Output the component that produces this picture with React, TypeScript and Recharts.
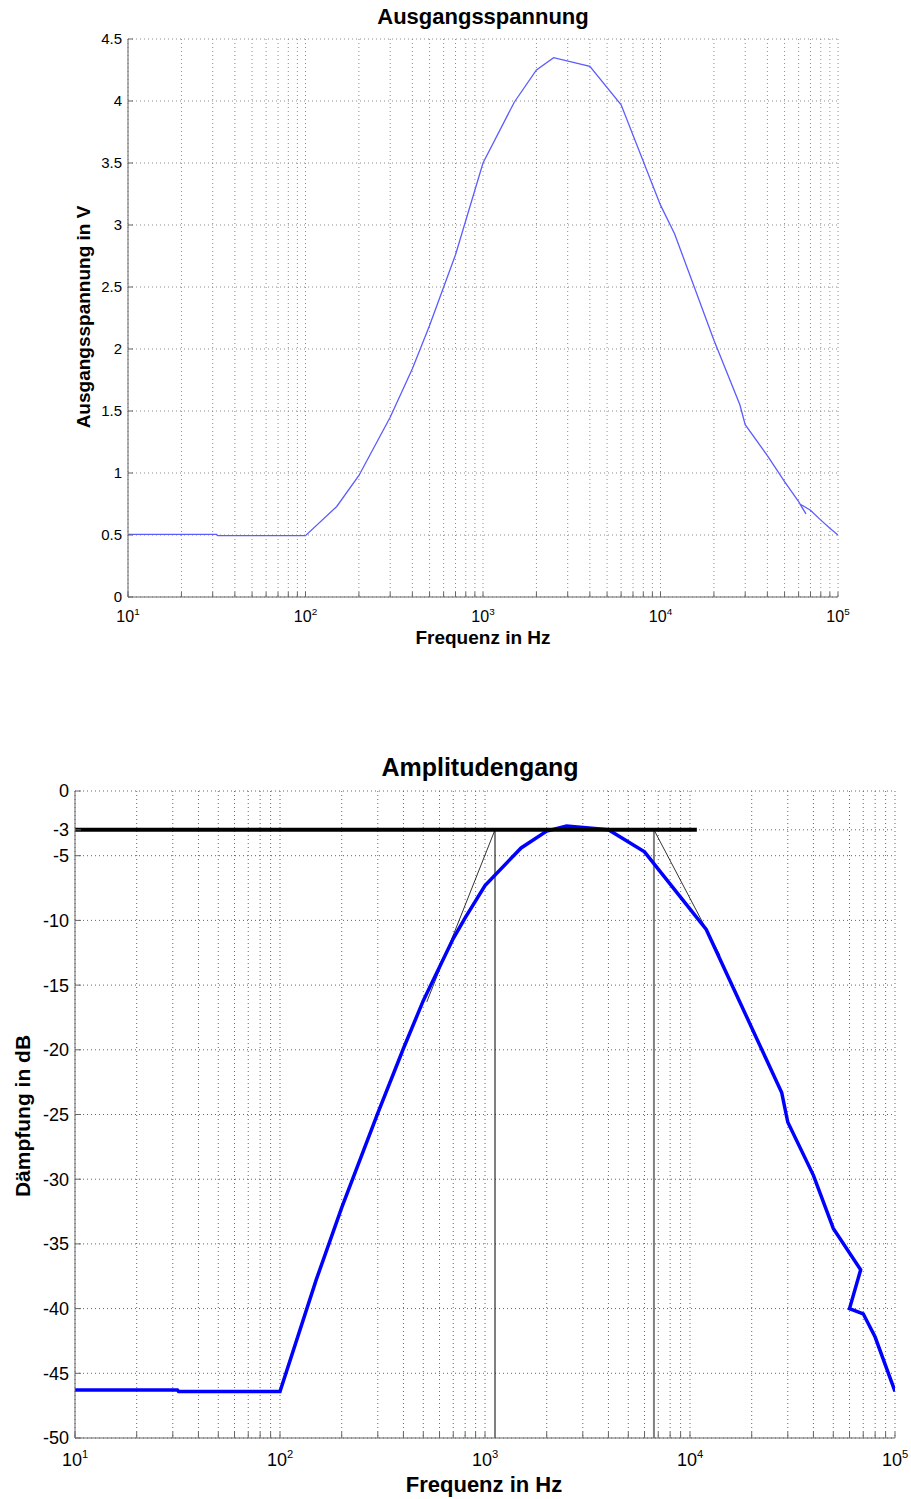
import React from "react";
import { LineChart, Line, XAxis, YAxis, CartesianGrid } from "recharts";

const FONT = "'Liberation Sans', Arial, Helvetica, sans-serif";

// Frequenzachse: Dekaden und Gitterlinien (1..9 je Dekade)
const freqDecades = [10, 100, 1000, 10000, 100000];
const freqGrid = freqDecades
  .slice(0, -1)
  .flatMap((d) => [1, 2, 3, 4, 5, 6, 7, 8, 9].map((m) => m * d))
  .concat([100000]);

// Ausgangsspannung (oben)
const voltFreq = [
  10, 31.6, 32, 100, 150, 200, 300, 400, 500, 700, 1000, 1500, 2000, 2500, 4000, 6000, 10000,
  12000, 20000, 28000, 30000, 40000, 50000, 60000, 66000, 61000, 70000, 80000, 90000, 100000,
];
const voltValues = [
  0.505, 0.505, 0.495, 0.495, 0.73, 0.98, 1.45, 1.84, 2.19, 2.76, 3.5, 3.99, 4.25, 4.35, 4.28, 3.97,
  3.16, 2.93, 2.07, 1.55, 1.39, 1.14, 0.93, 0.77, 0.67, 0.75, 0.7, 0.62, 0.555, 0.5,
];
const voltTicks = [0, 0.5, 1, 1.5, 2, 2.5, 3, 3.5, 4, 4.5];

// Amplitudengang (unten)
const dbFreq = [
  10, 31.6, 32, 100, 150, 200, 300, 400, 500, 600, 700, 800, 1000, 1500, 2000, 2500, 4000, 6000,
  12000, 28000, 30000, 40000, 50000, 68000, 60000, 70000, 80000, 100000,
];
const dbValues = [
  -46.3, -46.3, -46.4, -46.4, -37.8, -32.2, -24.9, -19.9, -16.2, -13.6, -11.4, -9.8, -7.3, -4.4,
  -3.1, -2.7, -3.0, -4.7, -10.7, -23.3, -25.6, -29.7, -33.8, -37.0, -40.0, -40.4, -42.2, -46.4,
];
const dbTicks = [0, -3, -5, -10, -15, -20, -25, -30, -35, -40, -45, -50];

// -3 dB Hilfslinien
const cutLevel = [-3, -3];
const cutLevelFreq = [10, 10800];
const lowerCutFreq = [1119, 1119];
const upperCutFreq = [6670, 6670];
const cutDrop = [-3, -50];
const lowAsymFreq = [1119, 520];
const lowAsymDb = [-3, -16.3];
const highAsymFreq = [6670, 14000];
const highAsymDb = [-3, -12.7];

const voltData = voltFreq.map((f, i) => ({ f, v: voltValues[i] }));
const dbData = dbFreq.map((f, i) => ({ f, db: dbValues[i] }));
const pairs = (fs: number[], ds: number[]) => fs.map((f, i) => ({ f, db: ds[i] }));

const isDecade = (v: number) => Math.abs(Math.log10(v) - Math.round(Math.log10(v))) < 1e-9;

const freqTick = (fontSize: number, labelDy: number, len: number, stroke: string) => (props: any) => {
  const { x, y, payload } = props;
  const v = payload.value;
  const exp = Math.round(Math.log10(v));
  return (
    <g>
      <line x1={x} x2={x} y1={y} y2={y - len} stroke={stroke} />
      {isDecade(v) && (
        <text x={x} y={y + labelDy} textAnchor="middle" fontSize={fontSize} fontFamily={FONT} fill="#000">
          10
          <tspan dy={-fontSize * 0.45} fontSize={fontSize * 0.62}>
            {exp}
          </tspan>
        </text>
      )}
    </g>
  );
};

const topTick = (len: number, stroke: string) => (props: any) => {
  const { x, y } = props;
  return <line x1={x} x2={x} y1={y} y2={y + len} stroke={stroke} />;
};

const valueTick = (fontSize: number, gap: number, len: number, stroke: string) => (props: any) => {
  const { x, y, payload } = props;
  return (
    <g>
      <line x1={x} x2={x + len} y1={y} y2={y} stroke={stroke} />
      <text x={x - gap} y={y} dy="0.36em" textAnchor="end" fontSize={fontSize} fontFamily={FONT} fill="#000">
        {String(payload.value)}
      </text>
    </g>
  );
};

const rightTick = (len: number, stroke: string) => (props: any) => {
  const { x, y } = props;
  return <line x1={x} x2={x - len} y1={y} y2={y} stroke={stroke} />;
};

function VoltageChart() {
  const box = "#666";
  return (
    <LineChart width={911} height={680} data={voltData} margin={{ top: 39, right: 73, bottom: 43, left: 68 }}>
      <CartesianGrid stroke="#8c8c8c" strokeDasharray="1 3" />
      <XAxis
        dataKey="f"
        type="number"
        scale="log"
        domain={[10, 100000]}
        allowDataOverflow
        ticks={freqGrid}
        interval={0}
        tickSize={0}
        tickMargin={0}
        height={40}
        axisLine={{ stroke: box }}
        tick={freqTick(16, 25, 5, box)}
      />
      <XAxis
        xAxisId="top"
        orientation="top"
        type="number"
        scale="log"
        domain={[10, 100000]}
        allowDataOverflow
        ticks={freqGrid}
        interval={0}
        tickSize={0}
        tickMargin={0}
        height={0}
        axisLine={{ stroke: box }}
        tick={topTick(5, box)}
      />
      <YAxis
        type="number"
        domain={[0, 4.5]}
        allowDataOverflow
        ticks={voltTicks}
        interval={0}
        tickSize={0}
        tickMargin={0}
        width={60}
        axisLine={{ stroke: box }}
        tick={valueTick(15, 6, 5, box)}
      />
      <YAxis
        yAxisId="r"
        orientation="right"
        type="number"
        domain={[0, 4.5]}
        allowDataOverflow
        ticks={voltTicks}
        interval={0}
        tickSize={0}
        tickMargin={0}
        width={0}
        axisLine={{ stroke: box }}
        tick={rightTick(5, box)}
      />
      <Line dataKey="v" type="linear" stroke="#5c5cff" strokeWidth={1.3} dot={false} isAnimationActive={false} />
    </LineChart>
  );
}

function DampingChart() {
  const box = "#666";
  return (
    <LineChart width={911} height={799} margin={{ top: 91, right: 16, bottom: 21, left: 15 }}>
      <CartesianGrid stroke="#666" strokeDasharray="1 3" />
      <XAxis
        dataKey="f"
        type="number"
        scale="log"
        domain={[10, 100000]}
        allowDataOverflow
        ticks={freqGrid}
        interval={0}
        tickSize={0}
        tickMargin={0}
        height={40}
        axisLine={{ stroke: box }}
        tick={freqTick(18, 28, 6, box)}
      />
      <XAxis
        xAxisId="top"
        orientation="top"
        type="number"
        scale="log"
        domain={[10, 100000]}
        allowDataOverflow
        ticks={freqGrid}
        interval={0}
        tickSize={0}
        tickMargin={0}
        height={0}
        axisLine={{ stroke: box }}
        tick={topTick(6, box)}
      />
      <YAxis
        type="number"
        domain={[-50, 0]}
        allowDataOverflow
        ticks={dbTicks}
        interval={0}
        tickSize={0}
        tickMargin={0}
        width={60}
        axisLine={{ stroke: box }}
        tick={valueTick(18, 6, 6, box)}
      />
      <YAxis
        yAxisId="r"
        orientation="right"
        type="number"
        domain={[-50, 0]}
        allowDataOverflow
        ticks={dbTicks}
        interval={0}
        tickSize={0}
        tickMargin={0}
        width={0}
        axisLine={{ stroke: box }}
        tick={rightTick(7, box)}
      />
      <Line data={pairs(lowerCutFreq, cutDrop)} dataKey="db" stroke="#000" strokeWidth={1} dot={false} isAnimationActive={false} />
      <Line data={pairs(upperCutFreq, cutDrop)} dataKey="db" stroke="#808080" strokeWidth={2} dot={false} isAnimationActive={false} />
      <Line data={pairs(lowAsymFreq, lowAsymDb)} dataKey="db" stroke="#000" strokeWidth={0.8} dot={false} isAnimationActive={false} />
      <Line data={pairs(highAsymFreq, highAsymDb)} dataKey="db" stroke="#000" strokeWidth={0.8} dot={false} isAnimationActive={false} />
      <Line data={dbData} dataKey="db" type="linear" stroke="#0000ff" strokeWidth={3.5} dot={false} isAnimationActive={false} />
      <Line data={pairs(cutLevelFreq, cutLevel)} dataKey="db" stroke="#000" strokeWidth={4} dot={false} isAnimationActive={false} />
    </LineChart>
  );
}

export default function App() {
  const bold = { fontFamily: FONT, fontWeight: 700, fill: "#000" } as const;
  return (
    <div style={{ position: "absolute", left: 0, top: 0, width: 911, height: 1499, background: "#fff" }}>
      <div style={{ position: "absolute", left: 0, top: 0 }}>
        <VoltageChart />
      </div>
      <div style={{ position: "absolute", left: 0, top: 700 }}>
        <DampingChart />
      </div>
      <svg width={911} height={1499} style={{ position: "absolute", left: 0, top: 0, pointerEvents: "none" }}>
        <text x={483} y={24} textAnchor="middle" fontSize={22} {...bold}>
          Ausgangsspannung
        </text>
        <text x={483} y={644} textAnchor="middle" fontSize={19} {...bold}>
          Frequenz in Hz
        </text>
        <text x={90} y={317} textAnchor="middle" fontSize={19} transform="rotate(-90 90 317)" {...bold}>
          Ausgangsspannung in V
        </text>
        <text x={480} y={776} textAnchor="middle" fontSize={25} {...bold}>
          Amplitudengang
        </text>
        <text x={484} y={1492} textAnchor="middle" fontSize={22} {...bold}>
          Frequenz in Hz
        </text>
        <text x={30} y={1116} textAnchor="middle" fontSize={21} transform="rotate(-90 30 1116)" {...bold}>
          Dämpfung in dB
        </text>
      </svg>
    </div>
  );
}
